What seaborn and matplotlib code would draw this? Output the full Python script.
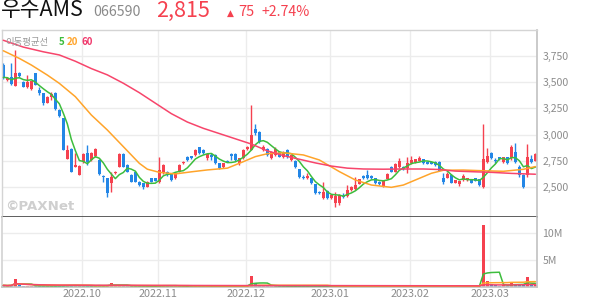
import numpy as np
import pandas as pd
import matplotlib
matplotlib.use("Agg")
import matplotlib.pyplot as plt
import seaborn as sns

# ---------------- data ----------------
opens = [3664, 3521, 3546, 3467, 3584, 3505, 3457, 3432, 3584, 3425,
         3394, 3305, 3362, 3394, 3235, 3155, 2764, 2859, 2694, 2615,
         2742, 2828, 2758, 2796, 2758, 2605, 2583, 2535, 2630, 2694,
         2815, 2710, 2615, 2646, 2551, 2535, 2503, 2583, 2583, 2551,
         2630, 2646, 2624, 2583, 2646, 2726, 2789, 2796, 2805, 2878,
         2854, 2774, 2806, 2806, 2726, 2688, 2750, 2815, 2815, 2726,
         2774, 2860, 2853, 3050, 3028, 2853, 2860, 2774, 2806, 2837,
         2790, 2853, 2758, 2751, 2672, 2599, 2583, 2583, 2525, 2456,
         2392, 2465, 2392, 2344, 2344, 2414, 2414, 2471, 2480, 2530,
         2605, 2615, 2605, 2583, 2551, 2503, 2580, 2688, 2646, 2690,
         2688, 2680, 2726, 2735, 2748, 2764, 2742, 2735, 2742, 2742,
         2590, 2590, 2614, 2541, 2525, 2567, 2567, 2565, 2583, 2575,
         2504, 2742, 2822, 2760, 2783, 2735, 2783, 2774, 2837, 2688,
         2615, 2610, 2764, 2752]
highs = [3680, 3550, 3680, 3807, 3600, 3515, 3568, 3515, 3590, 3457,
         3400, 3370, 3410, 3410, 3240, 3160, 2901, 2870, 2821, 2710,
         2820, 2901, 2835, 2870, 2765, 2610, 2590, 2646, 2650, 2820,
         2820, 2720, 2620, 2650, 2555, 2540, 2555, 2590, 2590, 2783,
         2715, 2656, 2630, 2640, 2715, 2750, 2795, 2800, 2860, 2885,
         2865, 2822, 2822, 2815, 2730, 2730, 2760, 2822, 2822, 2780,
         2860, 2890, 3282, 3101, 3030, 2900, 2870, 2840, 2878, 2845,
         2845, 2860, 2810, 2760, 2675, 2610, 2630, 2590, 2530, 2465,
         2545, 2470, 2430, 2456, 2430, 2440, 2519, 2505, 2599, 2575,
         2610, 2662, 2610, 2590, 2555, 2570, 2630, 2700, 2730, 2774,
         2700, 2789, 2796, 2770, 2796, 2770, 2748, 2740, 2748, 2748,
         2637, 2640, 2620, 2570, 2560, 2624, 2590, 2570, 2590, 2580,
         3101, 2875, 2830, 2773, 2790, 2789, 2790, 2901, 2917, 2710,
         2620, 2911, 2806, 2820]
lows = [3530, 3510, 3473, 3467, 3550, 3450, 3441, 3425, 3470, 3378,
        3282, 3300, 3330, 3235, 3170, 2850, 2764, 2640, 2690, 2610,
        2730, 2710, 2750, 2790, 2615, 2551, 2408, 2456, 2625, 2690,
        2690, 2640, 2545, 2545, 2510, 2478, 2500, 2545, 2555, 2541,
        2625, 2605, 2560, 2578, 2640, 2720, 2750, 2770, 2800, 2815,
        2815, 2760, 2760, 2720, 2670, 2680, 2735, 2760, 2750, 2710,
        2770, 2855, 2850, 2996, 2917, 2845, 2800, 2765, 2796, 2785,
        2780, 2774, 2750, 2680, 2585, 2575, 2578, 2530, 2435, 2430,
        2386, 2385, 2386, 2313, 2330, 2400, 2408, 2465, 2470, 2525,
        2578, 2578, 2578, 2530, 2515, 2500, 2575, 2640, 2640, 2685,
        2665, 2630, 2720, 2730, 2745, 2720, 2715, 2715, 2705, 2650,
        2528, 2585, 2535, 2535, 2510, 2560, 2560, 2535, 2555, 2510,
        2488, 2733, 2770, 2732, 2760, 2726, 2720, 2758, 2730, 2599,
        2490, 2599, 2726, 2745]
closes = [3546, 3540, 3483, 3584, 3559, 3457, 3505, 3511, 3473, 3394,
          3305, 3362, 3387, 3241, 3177, 2853, 2853, 2646, 2710, 2700,
          2815, 2742, 2828, 2863, 2624, 2592, 2440, 2599, 2646, 2815,
          2694, 2646, 2551, 2551, 2519, 2503, 2551, 2551, 2560, 2662,
          2710, 2624, 2567, 2637, 2710, 2742, 2758, 2774, 2853, 2821,
          2822, 2815, 2790, 2726, 2680, 2726, 2742, 2796, 2758, 2774,
          2853, 2885, 2996, 3012, 2933, 2885, 2806, 2837, 2860, 2790,
          2837, 2796, 2806, 2688, 2592, 2583, 2605, 2535, 2440, 2440,
          2456, 2392, 2424, 2417, 2424, 2408, 2471, 2497, 2519, 2572,
          2583, 2583, 2583, 2535, 2529, 2567, 2620, 2646, 2722, 2745,
          2669, 2726, 2758, 2764, 2773, 2726, 2720, 2720, 2710, 2656,
          2551, 2625, 2541, 2567, 2555, 2605, 2583, 2541, 2560, 2519,
          2764, 2796, 2774, 2745, 2765, 2783, 2726, 2885, 2742, 2615,
          2497, 2786, 2740, 2815]
volumes_m = [0.25, 0.18, 0.30, 1.50, 0.35, 0.20, 0.22, 0.18, 0.20, 0.15,
             0.22, 0.15, 0.12, 0.20, 0.18, 0.30, 0.25, 0.28, 0.20, 0.15,
             0.20, 0.22, 0.18, 0.20, 0.22, 0.15, 0.30, 0.75, 0.20, 0.25,
             0.20, 0.15, 0.18, 0.15, 0.12, 0.15, 0.12, 0.10, 0.10, 0.30,
             0.28, 0.15, 0.12, 0.12, 0.15, 0.12, 0.10, 0.30, 0.15, 0.12,
             0.12, 0.10, 0.10, 0.12, 0.12, 0.10, 0.10, 0.10, 0.12, 0.10,
             0.15, 0.30, 2.05, 0.60, 0.35, 0.20, 0.20, 0.15, 0.18, 0.12,
             0.12, 0.15, 0.10, 0.15, 0.20, 0.10, 0.10, 0.12, 0.15, 0.10,
             0.15, 0.12, 0.10, 0.15, 0.12, 0.08, 0.12, 0.10, 0.12, 0.10,
             0.10, 0.12, 0.08, 0.10, 0.08, 0.10, 0.10, 0.10, 0.12, 0.15,
             0.10, 0.12, 0.10, 0.10, 0.10, 0.08, 0.08, 0.08, 0.08, 0.10,
             0.30, 0.12, 0.10, 0.08, 0.08, 0.10, 0.08, 0.08, 0.08, 0.10,
             11.6, 1.00, 0.50, 0.25, 0.20, 0.25, 0.20, 0.90, 0.40, 0.30,
             0.35, 1.85, 0.40, 0.30]

# moving-average lines (index -> price)
ma20_idx = [0, 4, 7, 11, 14, 18, 22, 26, 30, 34, 36, 39, 43, 47, 51, 56, 60, 63,
            66, 70, 75, 79, 84, 88, 92, 97, 100, 104, 107, 110, 115, 120, 125, 130, 133]
ma20_val = [3800, 3727, 3664, 3568, 3489, 3362, 3187, 3044, 2885, 2726, 2670, 2640,
            2625, 2645, 2663, 2680, 2742, 2790, 2818, 2826, 2806, 2758, 2647, 2567,
            2519, 2497, 2519, 2583, 2631, 2660, 2662, 2655, 2650, 2669, 2695]
ma60_idx = [0, 5, 10, 14, 18, 22, 26, 30, 34, 38, 42, 46, 50, 54, 58, 62, 66, 70,
            74, 78, 82, 86, 90, 95, 100, 105, 109, 113, 118, 122, 127, 133]
ma60_val = [3900, 3835, 3790, 3760, 3700, 3630, 3570, 3490, 3400, 3300, 3200, 3120,
            3060, 3010, 2960, 2910, 2845, 2800, 2765, 2730, 2700, 2680, 2672, 2670,
            2672, 2672, 2667, 2652, 2645, 2640, 2630, 2622]

month_idx = [20, 39, 61, 82, 102, 122]
month_labels = ["2022.10", "2022.11", "2022.12", "2023.01", "2023.02", "2023.03"]
price_ticks = [2500, 2750, 3000, 3250, 3500, 3750]
vol_ticks_m = [5, 10]

# ---------------- style ----------------
RED = "#f5414f"
BLUE = "#2386e6"
GREEN = "#3dbd3d"
ORANGE = "#ffa42a"
PINK = "#f7456b"
GRID = "#ececec"
TXT = "#8c8c8c"

sns.set_theme(style="white")
plt.rcParams['font.family'] = ['Noto Sans CJK KR', 'DejaVu Sans']

W, H = 594, 304
fig = plt.figure(figsize=(W / 100, H / 100), dpi=100)
fig.patch.set_facecolor("white")

def fx(px):
    return px / W

def fy(py):
    return 1 - py / H

L, R = 2, 537
ax = fig.add_axes([fx(L), fy(217), (R - L) / W, (217 - 30) / H])
axv = fig.add_axes([fx(L), fy(286.7), (R - L) / W, (286.7 - 217) / H], sharex=ax)

df = pd.DataFrame({"open": opens, "high": highs, "low": lows, "close": closes,
                   "volume": np.array(volumes_m) * 1e6})
df["idx"] = np.arange(len(df))
df["up"] = df["close"] >= df["open"]
colors = np.where(df["up"], RED, BLUE)

# candles
ax.vlines(df["idx"], df["low"], df["high"], colors=colors, lw=1.0, zorder=2)
body = np.maximum((df["close"] - df["open"]).abs(), 7)
ax.bar(df["idx"], body, bottom=np.minimum(df["open"], df["close"]), width=0.72,
       color=colors, linewidth=0, zorder=2)

# moving averages
df["ma5"] = df["close"].rolling(5, min_periods=1).mean()
sns.lineplot(x=df["idx"], y=df["ma5"], ax=ax, color=GREEN, lw=1.1, zorder=3)
sns.lineplot(x=ma20_idx, y=ma20_val, ax=ax, color=ORANGE, lw=1.1, zorder=3)
sns.lineplot(x=ma60_idx, y=ma60_val, ax=ax, color=PINK, lw=1.1, zorder=3)

ax.set_xlim(-0.33, 133.4)
ax.set_ylim(2214, 3998)
ax.set_yticks(price_ticks)
ax.set_yticklabels([f"{v:,}" for v in price_ticks])
ax.set_xticks([m - 0.3 for m in month_idx])
ax.yaxis.tick_right()
ax.grid(True, color=GRID, lw=1, zorder=0)
ax.set_axisbelow(True)
ax.tick_params(axis="y", length=0, labelsize=7.6, labelcolor=TXT, pad=4)
ax.tick_params(axis="x", length=0, labelbottom=False)
ax.set_xlabel("")
ax.set_ylabel("")
for s in ["top", "left"]:
    ax.spines[s].set_color("#d4d4d4")
    ax.spines[s].set_linewidth(1)
ax.spines["right"].set_color("#c4c4c4")
ax.spines["bottom"].set_color("#333333")
ax.spines["bottom"].set_linewidth(1.1)

# volume
axv.bar(df["idx"], df["volume"], width=0.72, color=colors, linewidth=0, zorder=2)
df["v5"] = df["volume"].rolling(5, min_periods=1).mean()
df["v20"] = df["volume"].rolling(20, min_periods=1).mean()
df["v60"] = df["volume"].rolling(60, min_periods=1).mean()
sns.lineplot(x=df["idx"], y=df["v5"], ax=axv, color=GREEN, lw=1.1, zorder=3)
sns.lineplot(x=df["idx"], y=df["v20"], ax=axv, color=ORANGE, lw=1.1, zorder=3)
sns.lineplot(x=df["idx"], y=df["v60"], ax=axv, color=PINK, lw=1.1, zorder=3)
axv.set_ylim(0, 13.05e6)
axv.set_yticks([v * 1e6 for v in vol_ticks_m])
axv.set_yticklabels([f"{v}M" for v in vol_ticks_m])
axv.yaxis.tick_right()
axv.set_xticks([m - 0.3 for m in month_idx])
axv.set_xticklabels(month_labels)
axv.grid(True, color=GRID, lw=1, zorder=0)
axv.set_axisbelow(True)
axv.tick_params(axis="y", length=0, labelsize=7.6, labelcolor=TXT, pad=4)
axv.tick_params(axis="x", length=0, labelsize=7.8, labelcolor=TXT, pad=2)
axv.set_xlabel("")
axv.set_ylabel("")
axv.spines["top"].set_visible(False)
axv.spines["left"].set_color("#d4d4d4")
axv.spines["right"].set_color("#c4c4c4")
axv.spines["bottom"].set_color("#c4c4c4")

# header
fig.text(fx(1), fy(16.5), "우수AMS", fontsize=15.5, color="#111111", va="baseline")
fig.text(fx(93), fy(16.5), "066590", fontsize=10.2, color="#8a8a8a", va="baseline")
fig.text(fx(156), fy(16.5), "2,815", fontsize=15.5, color=RED, va="baseline")
fig.text(fx(227), fy(15.5), "▲", fontsize=6.5, color=RED, va="baseline",
         family=["DejaVu Sans"])
fig.text(fx(238), fy(16.5), "75", fontsize=10.5, color=RED, va="baseline")
fig.text(fx(261), fy(16.5), "+2.74%", fontsize=10.2, color=RED, va="baseline")

# MA legend
fig.text(fx(5), fy(42), "이동평균선", fontsize=6.8, color="#9a9a9a", va="center")
fig.text(fx(59), fy(42), "5", fontsize=7, color=GREEN, va="center", fontweight="bold")
fig.text(fx(67), fy(42), "20", fontsize=7, color=ORANGE, va="center", fontweight="bold")
fig.text(fx(82), fy(42), "60", fontsize=7, color="#f0386b", va="center", fontweight="bold")

# watermark
fig.text(fx(5), fy(207), "©PAXNet", fontsize=9.6, color="#cfcfcf", va="center",
         fontweight="bold", family=["DejaVu Sans"])

fig.savefig("out.png", dpi=100, facecolor="white")
